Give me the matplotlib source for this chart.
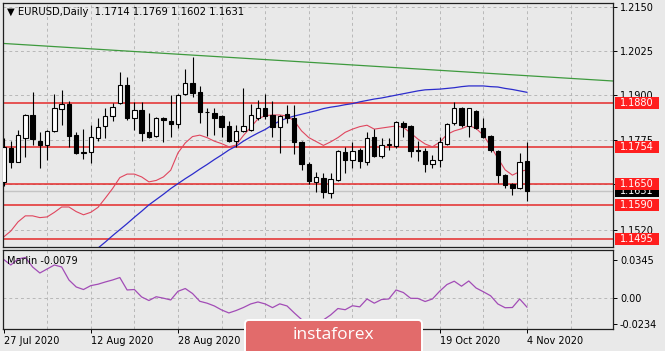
import numpy as np
import pandas as pd
import matplotlib
matplotlib.use("Agg")
import matplotlib.pyplot as plt
import matplotlib.transforms as mtransforms
from matplotlib.patches import Rectangle, FancyBboxPatch

# --- daily EURUSD bars, 27 Jul .. 4 Nov 2020 ---
dates = pd.bdate_range("2020-07-27", "2020-11-04")

opens = [1.1655, 1.1751, 1.1713, 1.1780, 1.1845, 1.1771, 1.1760, 1.1800, 1.1861, 1.1875,
         1.1788, 1.1737, 1.1740, 1.1779, 1.1814, 1.1842, 1.1878, 1.1930, 1.1836, 1.1859,
         1.1796, 1.1786, 1.1836, 1.1829, 1.1819, 1.1903, 1.1934, 1.1911, 1.1853, 1.1850,
         1.1842, 1.1815, 1.1771, 1.1800, 1.1803, 1.1836, 1.1864, 1.1845, 1.1812, 1.1847,
         1.1837, 1.1768, 1.1706, 1.1657, 1.1668, 1.1624, 1.1661, 1.1741, 1.1718, 1.1746,
         1.1711, 1.1784, 1.1730, 1.1759, 1.1756, 1.1823, 1.1814, 1.1745, 1.1743, 1.1706,
         1.1718, 1.1762, 1.1821, 1.1864, 1.1815, 1.1856, 1.1807, 1.1786, 1.1743, 1.1674,
         1.1649, 1.1638, 1.1714]
highs = [1.1781, 1.1771, 1.1803, 1.1847, 1.1909, 1.1796, 1.1803, 1.1903, 1.1916, 1.1884,
         1.1796, 1.1805, 1.1817, 1.1837, 1.1864, 1.1880, 1.1967, 1.1953, 1.1883, 1.1883,
         1.1850, 1.1840, 1.1840, 1.1901, 1.1903, 1.1975, 1.2010, 1.1928, 1.1864, 1.1864,
         1.1845, 1.1828, 1.1817, 1.1920, 1.1875, 1.1887, 1.1903, 1.1884, 1.1845, 1.1873,
         1.1873, 1.1771, 1.1711, 1.1685, 1.1680, 1.1680, 1.1746, 1.1755, 1.1770, 1.1751,
         1.1798, 1.1805, 1.1779, 1.1779, 1.1828, 1.1828, 1.1817, 1.1771, 1.1751, 1.1732,
         1.1784, 1.1821, 1.1883, 1.1868, 1.1866, 1.1859, 1.1836, 1.1788, 1.1746, 1.1677,
         1.1654, 1.1738, 1.1769]
lows = [1.1645, 1.1696, 1.1711, 1.1727, 1.1760, 1.1694, 1.1718, 1.1797, 1.1817, 1.1755,
        1.1734, 1.1721, 1.1708, 1.1771, 1.1781, 1.1828, 1.1875, 1.1831, 1.1803, 1.1772,
        1.1781, 1.1784, 1.1770, 1.1782, 1.1807, 1.1900, 1.1897, 1.1821, 1.1786, 1.1788,
        1.1784, 1.1768, 1.1755, 1.1796, 1.1800, 1.1831, 1.1834, 1.1784, 1.1737, 1.1821,
        1.1734, 1.1690, 1.1649, 1.1627, 1.1610, 1.1611, 1.1659, 1.1680, 1.1694, 1.1694,
        1.1704, 1.1727, 1.1723, 1.1746, 1.1751, 1.1784, 1.1727, 1.1715, 1.1683, 1.1694,
        1.1699, 1.1760, 1.1817, 1.1812, 1.1784, 1.1805, 1.1781, 1.1741, 1.1652, 1.1638,
        1.1619, 1.1636, 1.1602]
closes = [1.1754, 1.1713, 1.1788, 1.1845, 1.1777, 1.1760, 1.1800, 1.1864, 1.1875, 1.1786,
          1.1737, 1.1739, 1.1784, 1.1812, 1.1842, 1.1868, 1.1930, 1.1836, 1.1859, 1.1795,
          1.1784, 1.1836, 1.1832, 1.1819, 1.1901, 1.1934, 1.1907, 1.1853, 1.1852, 1.1836,
          1.1812, 1.1771, 1.1800, 1.1814, 1.1845, 1.1864, 1.1842, 1.1812, 1.1842, 1.1836,
          1.1768, 1.1706, 1.1658, 1.1669, 1.1627, 1.1664, 1.1743, 1.1718, 1.1743, 1.1715,
          1.1781, 1.1730, 1.1760, 1.1762, 1.1826, 1.1812, 1.1743, 1.1742, 1.1706, 1.1717,
          1.1768, 1.1819, 1.1864, 1.1817, 1.1864, 1.1809, 1.1784, 1.1746, 1.1674, 1.1647,
          1.1640, 1.1713, 1.1631]

# fast moving average (red)
ma_fast = [1.1500, 1.1517, 1.1543, 1.1560, 1.1560, 1.1555, 1.1557, 1.1570, 1.1585, 1.1585,
           1.1572, 1.1563, 1.1570, 1.1584, 1.1610, 1.1637, 1.1668, 1.1678, 1.1678, 1.1670,
           1.1656, 1.1660, 1.1670, 1.1689, 1.1738, 1.1766, 1.1784, 1.1788, 1.1781, 1.1771,
           1.1764, 1.1755, 1.1760, 1.1787, 1.1810, 1.1834, 1.1843, 1.1845, 1.1845, 1.1842,
           1.1828, 1.1800, 1.1781, 1.1770, 1.1759, 1.1769, 1.1781, 1.1796, 1.1805, 1.1812,
           1.1816, 1.1805, 1.1808, 1.1811, 1.1814, 1.1810, 1.1794, 1.1777, 1.1763, 1.1755,
           1.1768, 1.1790, 1.1800, 1.1806, 1.1815, 1.1807, 1.1788, 1.1757, 1.1723, 1.1690,
           1.1675, 1.1685, 1.1690]
# slow moving average (blue), below the visible range before mid August
ma_slow = [np.nan] * 12 + [
           1.1452, 1.1469, 1.1486, 1.1504, 1.1521, 1.1538, 1.1556, 1.1573, 1.1591, 1.1606,
           1.1621, 1.1637, 1.1651, 1.1665, 1.1678, 1.1692, 1.1705, 1.1719, 1.1732, 1.1746,
           1.1757, 1.1771, 1.1783, 1.1794, 1.1804, 1.1817, 1.1828, 1.1836, 1.1842, 1.1847,
           1.1852, 1.1857, 1.1863, 1.1867, 1.1870, 1.1874, 1.1877, 1.1882, 1.1886, 1.1890,
           1.1893, 1.1897, 1.1901, 1.1905, 1.1909, 1.1913, 1.1916, 1.1917, 1.1918, 1.1920,
           1.1922, 1.1925, 1.1927, 1.1927, 1.1927, 1.1925, 1.1924, 1.1920, 1.1917, 1.1913,
           1.1909]

# Marlin oscillator
marlin = [0.0351, 0.0300, 0.0354, 0.0368, 0.0282, 0.0228, 0.0264, 0.0300, 0.0282, 0.0165,
          0.0102, 0.0079, 0.0114, 0.0127, 0.0147, 0.0165, 0.0187, 0.0075, 0.0079, 0.0012,
          -0.0020, 0.0014, 0.0001, -0.0015, 0.0063, 0.0088, 0.0043, -0.0027, -0.0044, -0.0069,
          -0.0105, -0.0132, -0.0110, -0.0083, -0.0051, -0.0033, -0.0051, -0.0084, -0.0050, -0.0069,
          -0.0132, -0.0191, -0.0223, -0.0232, -0.0195, -0.0150, -0.0092, -0.0103, -0.0067, -0.0077,
          -0.0006, -0.0044, -0.0011, -0.0006, 0.0075, 0.0052, 0.0000, -0.0001, -0.0029, -0.0006,
          0.0064, 0.0124, 0.0154, 0.0109, 0.0156, 0.0093, 0.0059, 0.0023, -0.0051, -0.0085,
          -0.0083, -0.0006, -0.0079]

# green trend line: price at bar 0 and at the right edge
trend_bars = [0, 83.8]
trend_prices = [1.2047, 1.1941]

levels = [1.1880, 1.1754, 1.1650, 1.1590, 1.1495]
price_ticks = [1.1520, 1.1650, 1.1775, 1.1900, 1.2025, 1.2150]
osc_ticks = [-0.0234, 0.0, 0.0345]
osc_labels = ["-0.0234", "0.00", "0.0345"]
last_price = 1.1631

BG = "#E9E9E9"
GRID = "#B8B8B8"
LEVEL = "#E42A2A"
plt.rcParams["font.family"] = ["DejaVu Sans"]

W, H = 665, 351
fig = plt.figure(figsize=(W / 100, H / 100), dpi=100, facecolor=BG)


def px_axes(l, t, r, b):
    return fig.add_axes([l / W, 1 - b / H, (r - l) / W, (b - t) / H])


ax = px_axes(2.5, 3, 613, 247)
ax2 = px_axes(2.5, 250, 613, 328.5)
n = len(closes)
xs = np.arange(n)
xlim = (-0.14, 83.84)

for a in (ax, ax2):
    a.set_facecolor(BG)
    a.set_xlim(*xlim)
    for s in a.spines.values():
        s.set_linewidth(0.9)
        s.set_color("#202020")
    for g in range(6, 84, 6):
        a.axvline(g, color=GRID, lw=0.7, ls=(0, (3, 3)), zorder=0.5)
    a.yaxis.tick_right()
    a.tick_params(axis="y", labelsize=7, length=3, width=0.7, pad=2)

# --- price pane ---
ax.set_ylim(1.14720, 1.21613)
ax.set_xticks([])
ax.set_yticks(price_ticks)
# the 1.1650 tick label sits under the 1.1650 level box
ax.set_yticklabels(["" if v in levels else f"{v:.4f}" for v in price_ticks])
for v in price_ticks:
    ax.axhline(v, color=GRID, lw=0.7, ls=(0, (3, 3)), zorder=0.5)

ax.axhline(last_price, color="#C4C4C4", lw=1.0, zorder=0.8)
for lv in levels:
    ax.axhline(lv, color=LEVEL, lw=1.1, zorder=1)

ax.axline((trend_bars[0], trend_prices[0]), (trend_bars[1], trend_prices[1]),
          color="#3E9A3E", lw=0.9, zorder=1.2)
ax.plot(xs, ma_slow, color="#2C2CCC", lw=0.9, zorder=1.3)
ax.plot(xs, ma_fast, color="#E0465E", lw=0.8, zorder=1.3)

bw = 0.6
for i in range(n):
    o, h, l, c = opens[i], highs[i], lows[i], closes[i]
    ax.vlines(i, l, h, color="black", lw=0.8, zorder=3)
    up = c >= o
    ax.add_patch(Rectangle((i - bw / 2, min(o, c)), bw, max(abs(c - o), 0.00005),
                           facecolor="white" if up else "black", edgecolor="black",
                           lw=0.8, zorder=4))

ax.text(0.007, 0.963, "\u25bc EURUSD,Daily  1.1714 1.1769 1.1602 1.1631",
        transform=ax.transAxes, fontsize=7.2, va="center", ha="left", zorder=6)

# right-hand price boxes
blend = mtransforms.blended_transform_factory(ax.transAxes, ax.transData)
bx0, bx1 = (615 - 2.5) / 610.5, (659 - 2.5) / 610.5
hh = 6 / 3540


def price_box(val, fc, z):
    ax.add_patch(Rectangle((bx0, val - hh), bx1 - bx0, 2 * hh, transform=blend,
                           facecolor=fc, edgecolor="none", clip_on=False, zorder=z))
    ax.text((bx0 + bx1) / 2, val, f"{val:.4f}", transform=blend, color="white",
            fontsize=7, ha="center", va="center", clip_on=False, zorder=z + 0.5)


price_box(last_price, "black", 7)
for lv in levels:
    price_box(lv, "#FF1E1E", 8)

# --- oscillator pane ---
ax2.set_ylim(-0.02721, 0.04351)
ax2.axhline(0, color=GRID, lw=0.7, ls=(0, (3, 3)), zorder=0.5)
ax2.plot(xs, marlin, color="#A24CB6", lw=0.9, zorder=2)
ax2.set_yticks(osc_ticks)
ax2.set_yticklabels(osc_labels)
ax2.text(0.007, 0.86, "Marlin -0.0079", transform=ax2.transAxes, fontsize=7,
         va="center", ha="left")

# date labels every 12 bars; the two in the middle lie under the watermark
date_idx = list(range(0, n, 12))
hidden = [36, 48]
ax2.set_xticks(date_idx)
ax2.set_xticklabels(["" if i in hidden else f"{dates[i].day} {dates[i].strftime('%b %Y')}"
                     for i in date_idx], ha="left")
ax2.tick_params(axis="x", labelsize=7, length=3, width=0.7, pad=2.5)

# watermark
wm = FancyBboxPatch((245, -6), 177, 37, boxstyle="round,pad=0,rounding_size=4",
                    transform=mtransforms.IdentityTransform(), facecolor="#E26B6B",
                    edgecolor="white", lw=1.4, zorder=20)
fig.patches.append(wm)
fig.text(333 / W, 1 - 335 / H, "instaforex", color="white", fontsize=12.5,
         family="Open Sans", ha="center", va="center", zorder=21)

fig.savefig("out.png", dpi=100, facecolor=BG)
